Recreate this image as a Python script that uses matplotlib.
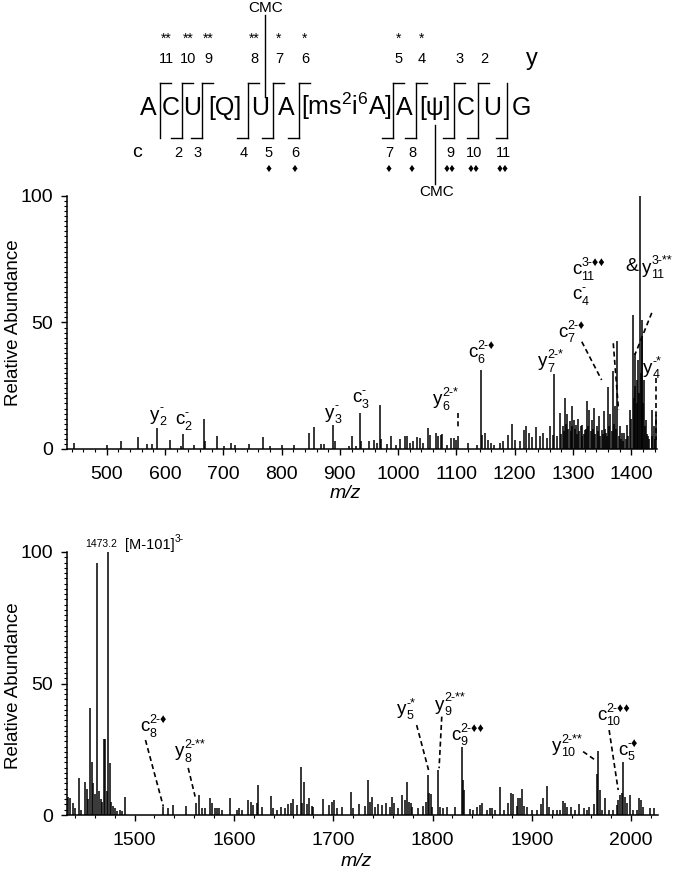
import matplotlib
matplotlib.use('Agg')
import matplotlib.pyplot as plt
from matplotlib.lines import Line2D
from matplotlib.offsetbox import TextArea, HPacker, VPacker, AnnotationBbox
from matplotlib.ticker import MultipleLocator

plt.rcParams['font.family'] = ['Liberation Sans', 'DejaVu Sans']
plt.rcParams['mathtext.fontset'] = 'custom'
plt.rcParams['mathtext.rm'] = 'Liberation Sans'
plt.rcParams['mathtext.it'] = 'Liberation Sans:italic'

W, H = 693, 873

# ---- sequence / fragment map ----
residues = ['A', 'C', 'U', '[Q]', 'U', 'A', '[ms$^2$i$^6$A]', 'A', '[ψ]', 'C', 'U', 'G']
y_nums = ['11', '10', '9', '8', '7', '6', '5', '4', '3', '2', '']
y_marks = ['**', '**', '**', '**', '*', '*', '*', '*', '', '', '']
c_nums = ['', '2', '3', '4', '5', '6', '7', '8', '9', '10', '11']
c_marks = ['', '', '', '', '♦', '♦', '♦', '♦', '♦♦', '♦♦', '♦♦']

# ---- spectrum 1 (m/z 430-1445) ----
mz1 = [444, 500, 525, 553, 570, 578, 587, 609, 627, 631, 650, 667, 669, 689, 701, 713, 721, 744,
       768, 780, 800, 822, 847, 855, 868, 873, 889, 891, 916, 920, 928, 935, 937, 950, 959, 963,
       969, 971, 981, 987, 996, 1003, 1012, 1015, 1021, 1026, 1032, 1037, 1043, 1051, 1054, 1065,
       1069, 1073, 1076, 1084, 1090, 1095, 1099, 1103, 1120, 1135, 1141.5, 1144, 1149, 1154, 1160,
       1165, 1174, 1180, 1189, 1194.6, 1200, 1209, 1216, 1219, 1224, 1229, 1236, 1243, 1249, 1256,
       1260, 1265, 1267.6, 1272, 1277.6, 1279, 1282, 1284, 1286.6, 1288, 1290, 1292, 1294, 1296,
       1297.5, 1299, 1301, 1303, 1305, 1307, 1309, 1311, 1313, 1315, 1316, 1318, 1320, 1322,
       1324.5, 1326, 1328, 1330, 1332, 1334, 1336, 1338, 1341, 1343, 1345, 1347, 1349, 1351,
       1353.5, 1355, 1357, 1359, 1360, 1362, 1364, 1366, 1368, 1370, 1372, 1374, 1376, 1378, 1380,
       1382, 1384, 1386, 1387, 1390, 1393, 1395, 1397.5, 1400, 1402, 1404, 1406, 1407, 1409, 1410,
       1412, 1413, 1414.7, 1416, 1417.6, 1419, 1420, 1421.6, 1423, 1425, 1427, 1429, 1431, 1434.6,
       1436, 1438, 1440, 1441.5]
int1 = [2.2, 1.6, 3, 4.9, 2, 2, 8.3, 3.6, 1.3, 5.8, 1.7, 11.9, 3, 5.1, 1.2, 2.5, 1.6, 1.8,
        4.8, 1, 1.6, 1.7, 6.3, 8.5, 2.1, 1.8, 9.3, 3, 1, 5, 1, 14.2, 3, 3, 3.6, 2.3,
        17.5, 4, 1.9, 5, 1.6, 4, 5, 5, 2.4, 3, 4.7, 4.2, 2.4, 8.2, 5.5, 6.3,
        5.3, 5.5, 6, 1.7, 4.3, 4.5, 3.5, 5, 2.4, 1.7, 31.3, 5.7, 6.3, 3.7, 2.4,
        1.7, 2.4, 3, 5.7, 10, 3.7, 3, 7.6, 9, 6.3, 4.7, 8.7, 5, 6.3, 4.4,
        9.2, 5.7, 29.6, 5, 14.2, 6, 9, 7, 20.1, 10, 14, 8, 11, 7,
        16.8, 9, 11.5, 8, 9.6, 6, 12, 7, 9, 5, 9.6, 6, 7.6, 8,
        18.8, 9, 15.5, 7, 11.5, 8, 16.2, 6, 9, 7, 13, 5, 7.6, 6,
        15, 8, 6.3, 5, 24.7, 9, 14, 7, 30.7, 10, 16.8, 8, 42.5, 5, 9,
        4, 6.3, 3, 6.3, 4, 9.6, 5, 15.5, 12, 53, 20, 37.9, 25, 27.4, 18,
        35, 22, 100, 30, 51, 44, 18, 27.4, 9, 11.5, 6, 5, 4, 15.5,
        5, 9, 4, 13.5]

# ---- spectrum 2 (m/z 1432-2027) ----
mz2 = [1433, 1434.7, 1437.7, 1440, 1443.8, 1446, 1450, 1452, 1453.5, 1455.2, 1457, 1458.2, 1459.7,
       1462, 1464.2, 1466.2, 1467.7, 1469.3, 1470.6, 1471.8, 1473.2, 1475.3, 1476.8, 1478.3, 1480.3,
       1482.4, 1485.4, 1487.4, 1490.4, 1529, 1534, 1539, 1552, 1562, 1565.2, 1567.6, 1571, 1576,
       1577.7, 1581, 1582.7, 1585.4, 1587.8, 1596, 1603, 1605, 1608, 1614.6, 1617, 1619.6, 1623,
       1624.6, 1628, 1637.4, 1639.7, 1643, 1647.5, 1651.5, 1654.8, 1657.3, 1660, 1663.3, 1667.3,
       1669, 1671, 1673.4, 1675.7, 1678.4, 1680, 1690, 1695.8, 1698.5, 1701.2, 1703.6, 1708.6,
       1717.7, 1720.3, 1726, 1732, 1735.4, 1737, 1739.4, 1742, 1745.5, 1748.9, 1753.2, 1757.3,
       1759.6, 1761.6, 1765, 1769.6, 1772.4, 1774.7, 1776.4, 1778, 1779.7, 1785.8, 1790.8, 1793.5,
       1795.2, 1796.5, 1798.2, 1799.9, 1805.9, 1807.6, 1811, 1815, 1822.7, 1830.1, 1831.1, 1832.1,
       1837.8, 1841.2, 1844.6, 1847.9, 1850.2, 1854.6, 1858, 1860.3, 1863, 1868, 1872, 1876.4, 1879,
       1880.8, 1884.8, 1886.5, 1888.2, 1890.5, 1892.2, 1895.5, 1900, 1905, 1909, 1911, 1915, 1917.4,
       1921.7, 1925.8, 1928.5, 1931.8, 1933.5, 1935.8, 1939.2, 1943.6, 1947.9, 1952, 1955.3, 1958,
       1962.7, 1965.4, 1967, 1968.4, 1970.4, 1973.8, 1978.1, 1982.1, 1985.5, 1987.2, 1988.9, 1990.6,
       1992.2, 1993.9, 1995.6, 1999, 2002.3, 2005.7, 2008.3, 2009.8, 2011.8, 2019, 2023.4]
int2 = [7, 6.3, 4.7, 2.5, 14, 2, 12.4, 10, 6, 40.5, 20, 12, 8,
        96, 9, 6, 5, 29, 29, 9, 100, 19.7, 5, 3.5, 2.5,
        1.5, 2, 1.5, 7, 3.2, 2.5, 3.8, 3.4, 4.6, 7.6, 2.5, 2.5, 6.3,
        4.4, 2.5, 2.8, 2.5, 2, 6.5, 1.9, 2.5, 2, 5.7, 5, 3.8, 4.4,
        11.4, 3.2, 7.2, 2.5, 1.9, 2.9, 2.5, 4, 4.4, 6, 3.8, 18.4,
        4.4, 12.7, 4, 6.3, 3.4, 2.9, 6, 3.8, 5, 5.7, 2.5, 3.2,
        8.6, 2.5, 4.2, 3.4, 13.3, 5, 7, 3.2, 4.2, 3.8, 4.7, 3.2,
        6.7, 4.4, 2.5, 7.6, 5.7, 12.7, 5, 4.4, 3.2, 2.5, 3.4, 5,
        15.2, 8.2, 8, 3.2, 17.1, 3.2, 2.5, 3.2, 3, 26, 13.3, 9.5,
        2.2, 2, 3.2, 3.8, 4.4, 2, 2.5, 2.5, 2, 10.8, 2, 4.4, 8.5,
        8, 3.4, 6.3, 6.6, 10, 3.4, 3.2, 2, 2, 4.2, 6.3, 11, 3.2,
        2, 2, 2, 5.4, 4.4, 3.2, 3.2, 2, 4.2, 2.5, 2, 3.2,
        4.2, 15.6, 24.5, 9.5, 2, 6.3, 2, 2, 3.8, 5.7, 7.6, 8.2,
        20.3, 7, 4.4, 7.6, 2, 2, 6.3, 5.7, 3.2, 2.5, 2.8]

# ion labels: base, subscript, superscript, m/z, rel. abundance
labels1 = [('y', '2', '-', 574, 13.4), ('c', '2', '-', 617, 11.5),
           ('y', '3', '-', 874, 14.2), ('c', '3', '-', 921, 20.2),
           ('y', '6', '2-*', 1060, 19.4), ('c', '6', '2-♦', 1120, 38),
           ('y', '7', '2-*', 1240, 34.4), ('c', '7', '2-♦', 1274, 46.2),
           ('c', '11', '3-♦♦', 1298, 70.8), ('c', '4', '-', 1298, 60.9),
           ('y', '11', '3-**', 1418, 71.5), ('y', '4', '-*', 1420, 32)]
leaders1 = [((1102, 14.2), (1102, 8.3)), ((1315, 42.4), (1349, 27.3)),
            ((1369, 41.8), (1378, 15.4)), ((1435, 53.8), (1406, 37.2)),
            ((1442, 28), (1442, 3.6))]

labels2 = [('c', '8', '2-♦', 1505.5, 33.5), ('y', '8', '2-**', 1540.8, 24),
           ('y', '5', '-*', 1764, 40), ('y', '9', '2-**', 1802.6, 41.8),
           ('c', '9', '2-♦♦', 1818.4, 30.4), ('y', '10', '2-**', 1920.4, 26),
           ('c', '10', '2-♦♦', 1965.7, 38), ('c', '5', '-♦', 1986.9, 24.7)]
leaders2 = [((1511, 28.5), (1529, 3.2)), ((1554, 17.9), (1561, 7)),
            ((1784, 34.2), (1796, 17.1)), ((1809.3, 37.4), (1806.6, 17.8)),
            ((1951.6, 24.1), (1963.7, 20.9)), ((1977.8, 32.3), (1986.9, 9.5))]


def fx(px):
    return px / W


def fy(py):
    return 1 - py / H


def fig_line(fig, x0, y0, x1, y1, lw=1.0):
    fig.add_artist(Line2D([fx(x0), fx(x1)], [fy(y0), fy(y1)],
                          transform=fig.transFigure, color='black', lw=lw))


def ion(ax, base, sub, sup, x, y, size=13.5, small=9):
    stack = VPacker(children=[TextArea(sup, textprops=dict(size=small)),
                              TextArea(sub if sub else ' ', textprops=dict(size=small))],
                    align='left', pad=0, sep=1)
    box = HPacker(children=[TextArea(base, textprops=dict(size=size)), stack],
                  align='center', pad=0, sep=0)
    ab = AnnotationBbox(box, (x, y), xycoords='data', box_alignment=(0, 0.5),
                        frameon=False, pad=0, annotation_clip=False)
    ax.add_artist(ab)


def style_axes(ax, xlim):
    ax.set_xlim(*xlim)
    ax.set_ylim(0, 100)
    ax.spines['top'].set_visible(False)
    ax.spines['right'].set_visible(False)
    ax.spines['left'].set_linewidth(1.1)
    ax.spines['bottom'].set_linewidth(1.1)
    ax.set_yticks([0, 50, 100])
    ax.yaxis.set_minor_locator(MultipleLocator(2))
    ax.xaxis.set_major_locator(MultipleLocator(100))
    ax.xaxis.set_minor_locator(MultipleLocator(20))
    ax.tick_params(axis='both', which='major', labelsize=14, length=4, width=1, direction='out')
    ax.tick_params(axis='both', which='minor', length=2.5, width=0.8, direction='out')
    ax.tick_params(axis='x', which='major', pad=8)
    ax.tick_params(axis='y', which='major', pad=6)
    ax.set_xlabel('m/z', fontsize=14, style='italic')
    ax.set_ylabel('Relative Abundance', fontsize=13.5)


fig = plt.figure(figsize=(6.93, 8.73), dpi=100)
ax1 = fig.add_axes([fx(67), fy(449), 590 / W, 253 / H])
ax2 = fig.add_axes([fx(67), fy(815), 591 / W, 263 / H])

# panel 1
ax1.vlines(mz1, 0, int1, color='black', lw=1.1)
style_axes(ax1, (432, 1444))
ax1.xaxis.set_label_coords(0.471, -0.142)
ax1.yaxis.set_label_coords(-0.076, 0.5)
for base, sub, sup, x, y in labels1:
    ion(ax1, base, sub, sup, x, y)
ax1.text(1401, 72, '&', fontsize=14, ha='center', va='center')
for (x0, y0), (x1, y1) in leaders1:
    ax1.plot([x0, x1], [y0, y1], color='black', lw=1.2, ls=(0, (3, 2)), clip_on=False)

# panel 2
ax2.vlines(mz2, 0, int2, color='black', lw=1.1)
style_axes(ax2, (1432, 2027))
ax2.xaxis.set_label_coords(0.49, -0.145)
ax2.yaxis.set_label_coords(-0.076, 0.49)
for base, sub, sup, x, y in labels2:
    ion(ax2, base, sub, sup, x, y)
ion(ax2, '[M-101]', '', '3-', 1490.4, 102.7, size=10.5, small=7.5)
ax2.text(1466, 103, '1473.2', fontsize=7.5, ha='center', va='center', clip_on=False)
for (x0, y0), (x1, y1) in leaders2:
    ax2.plot([x0, x1], [y0, y1], color='black', lw=1.2, ls=(0, (3, 2)), clip_on=False)

# ---- fragment map on top ----
brackets = [160, 182, 202, 248, 273, 299, 393, 416, 454, 478, 507]
centers = [brackets[0] - 12] + [(a + b) / 2 for a, b in zip(brackets[:-1], brackets[1:])] + [brackets[-1] + 14]
for res, cx in zip(residues, centers):
    fig.text(fx(cx), fy(115), res, fontsize=18, ha='center', va='baseline')

for i, bx in enumerate(brackets):
    fig_line(fig, bx, 83, bx, 138)
    if y_nums[i]:
        fig_line(fig, bx, 83, bx + 11, 83)
        fig.text(fx(bx + 6), fy(63), y_nums[i], fontsize=10.5, ha='center', va='baseline')
        if y_marks[i]:
            fig.text(fx(bx + 6), fy(43), y_marks[i], fontsize=10, ha='center', va='baseline')
    if c_nums[i]:
        fig_line(fig, bx - 11, 138, bx, 138)
        fig.text(fx(bx - 4), fy(157), c_nums[i], fontsize=10.5, ha='center', va='baseline')
        if c_marks[i]:
            fig.text(fx(bx - 4), fy(169), c_marks[i], fontsize=8.5, ha='center', va='center')

fig.text(fx(532), fy(65), 'y', fontsize=17, ha='center', va='baseline')
fig.text(fx(137), fy(157), 'c', fontsize=14, ha='center', va='baseline')

# CMC modifications
fig.text(fx(266), fy(8), 'CMC', fontsize=11, ha='center', va='center')
fig_line(fig, 265, 15, 265, 97)
fig_line(fig, 435, 125, 435, 184)
fig.text(fx(437), fy(192), 'CMC', fontsize=11, ha='center', va='center')

fig.savefig('out.png', dpi=100)
